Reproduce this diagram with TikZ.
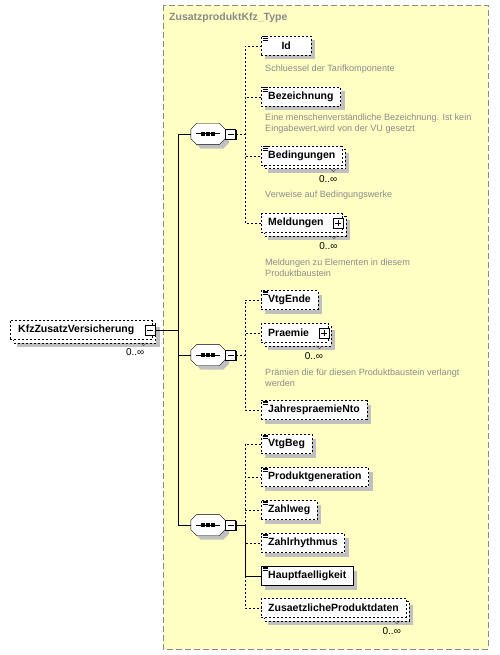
\documentclass[tikz,border=0pt]{standalone}
\usepackage{fontspec}
\setmainfont{Liberation Sans}
\usetikzlibrary{calc,shadows}
\pgfdeclarelayer{bg}
\pgfdeclarelayer{back}
\pgfsetlayers{bg,back,main}
\definecolor{typefill}{HTML}{FFFFC4}
\definecolor{typeline}{HTML}{8A8A8A}
\definecolor{notegray}{HTML}{8C8C8C}
\definecolor{shade}{HTML}{C0C0C0}
\newcommand{\elemfont}{\bfseries\fontsize{10.5}{12}\selectfont}
\newcommand{\simpleicon}[1]{%
 \foreach \k in {0.6,2.3,4.0}
  {\draw[line width=0.8pt] ($(#1.north west)+(1.5,\k)$)--++(5,0);}}
\newcommand{\seqshape}[1]{%
 \draw[fill=white,drop shadow={shadow xshift=4pt,shadow yshift=-4pt,fill=shade,opacity=1}]
  ($(#1.north west)+(6,0)$) -- ($(#1.north east)+(-6,0)$) -- ($(#1.north east)+(0,6)$)
  -- ($(#1.south east)+(0,-6)$) -- ($(#1.south east)+(-6,0)$) -- ($(#1.south west)+(6,0)$)
  -- ($(#1.south west)+(0,-6)$) -- ($(#1.north west)+(0,6)$) -- cycle;
 \draw[line width=1pt] ($(#1.west)+(5,0)$)--($(#1.east)+(-5,0)$);
 \foreach \dx in {-5,0,5}
  {\fill ($(#1.center)+(\dx-1.6,-1.6)$) rectangle ++(3.2,3.2);}}
\newcommand{\manytick}[1]{%
 \draw[black!70] ($(#1.south east)+(-12,3)$)--++(3,3)--++(3,-3);}

\begin{document}
\begin{tikzpicture}[x=1pt,y=-1pt,
 dashline/.style={dash pattern=on 2pt off 2pt},
 box/.style={draw,dashline,fill=white,anchor=west,inner xsep=7pt,inner ysep=0pt,
  minimum height=19pt,font=\elemfont},
 elem/.style={box,drop shadow={shadow xshift=4pt,shadow yshift=-4pt,fill=shade,opacity=1}},
 must/.style={elem,solid},
 multi/.style={box},
 backbox/.style={draw,dashline,fill=white,
  drop shadow={shadow xshift=4pt,shadow yshift=-4pt,fill=shade,opacity=1}},
 note/.style={anchor=west,text=notegray,align=left,inner sep=0pt,
  font=\fontsize{9.1}{11}\selectfont},
 many/.style={anchor=north east,inner sep=0pt,font=\fontsize{10}{11}\selectfont},
 seqbox/.style={minimum width=34pt,minimum height=21pt,inner sep=0pt},
 pm/.style={draw,solid,fill=white,minimum size=10pt,inner sep=0pt,line width=0.7pt,
  drop shadow={shadow xshift=1pt,shadow yshift=-1pt,fill=black,opacity=1}},
 minus/.style={pm,path picture={\draw ([xshift=2pt]path picture bounding box.west)
  --([xshift=-2pt]path picture bounding box.east);}},
 plus/.style={pm,path picture={\draw ([xshift=2pt]path picture bounding box.west)
  --([xshift=-2pt]path picture bounding box.east)
  ([yshift=2pt]path picture bounding box.south)
  --([yshift=-2pt]path picture bounding box.north);}}]
\useasboundingbox (0,0) rectangle (499,655);

% complex type area
\begin{pgfonlayer}{bg}
\draw[typeline,fill=typefill,dash pattern=on 6pt off 3pt] (163,5) rectangle (488,649);
\end{pgfonlayer}
\node[anchor=west,text=typeline,font=\elemfont,inner sep=0pt] (title) at (169,18) {ZusatzproduktKfz\_Type};

% root element
\node[multi,inner xsep=8pt] (kfz) at (10,330) {KfzZusatzVersicherung\kern10pt};
\node[minus,anchor=east] (kfzm) at ($(kfz.east)+(3,0)$) {};
\node[many] (kfzn) at ($(kfz.south east)+(-8,9)$) {0..∞};
\manytick{kfz}

% sequences
\foreach \s/\yy in {seq1/134,seq2/355,seq3/525}
 {\node[seqbox] (\s) at (208,\yy) {};
  \seqshape{\s}
  \node[minus,anchor=west] (\s m) at (\s.east) {};}

% elements
\foreach \nm/\yy/\lab/\mw in {id/46/Id/50,bez/97/Bezeichnung/0,vende/300/VtgEnde/0,
 jahr/410/JahrespraemieNto/0,vbeg/444/VtgBeg/0,prod/477/Produktgeneration/0,
 zweg/510/Zahlweg/0,zrhy/543/Zahlrhythmus/0}
 {\node[elem,minimum width=\mw pt] (\nm) at (261,\yy) {\lab};
  \simpleicon{\nm}}
\node[must] (haupt) at (261,576) {Hauptfaelligkeit};
\simpleicon{haupt}
\node[multi] (bed) at (261,156) {Bedingungen};
\simpleicon{bed}
\node[multi] (meld) at (261,223) {Meldungen\kern12pt};
\node[plus,anchor=east] (meldp) at ($(meld.east)+(1,0)$) {};
\node[multi] (prae) at (261,333) {Praemie\kern12pt};
\node[plus,anchor=east] (praep) at ($(prae.east)+(1,0)$) {};
\node[multi] (zpd) at (261,608) {ZusaetzlicheProduktdaten};

% stacked boxes of repeated elements
\begin{pgfonlayer}{back}
\foreach \nm in {kfz,bed,meld,prae,zpd}
 {\draw[backbox] ($(\nm.north west)+(3,3)$) rectangle ($(\nm.south east)+(3,3)$);}
\end{pgfonlayer}
\foreach \nm in {bed,meld,prae,zpd}
 {\node[many] (\nm n) at ($(\nm.south east)+(-5,10)$) {0..∞};
  \manytick{\nm}}

% annotations
\node[note] (idnote) at (265,69) {Schluessel der Tarifkomponente};
\node[note] (beznote) at (265,123.5) {Eine menschenverständliche Bezeichnung. Ist kein\\Eingabewert,wird von der VU gesetzt};
\node[note] (bednote) at (265,195) {Verweise auf Bedingungswerke};
\node[note] (meldnote) at (265,267.5) {Meldungen zu Elementen in diesem\\Produktbaustein};
\node[note] (praenote) at (265,377.5) {Prämien die für diesen Produktbaustein verlangt\\werden};

% connectors
\coordinate (bus) at ($(kfzm.east)+(23,0)$);
\draw (kfzm.east) -- (bus);
\foreach \s in {seq1,seq2,seq3}
 {\draw (bus) |- (\s.west);}
\foreach \nm in {id,bez,bed,meld}
 {\draw[dashline] (seq1m.east) -- ++(9,0) |- (\nm.west);}
\foreach \nm in {vende,prae,jahr}
 {\draw[dashline] (seq2m.east) -- ++(9,0) |- (\nm.west);}
\foreach \nm in {vbeg,prod,zweg,zrhy,zpd}
 {\draw[dashline] (seq3m.east) -- ++(9,0) |- (\nm.west);}
\draw (seq3m.east) -- ++(9,0) |- (haupt.west);
\end{tikzpicture}
\end{document}
